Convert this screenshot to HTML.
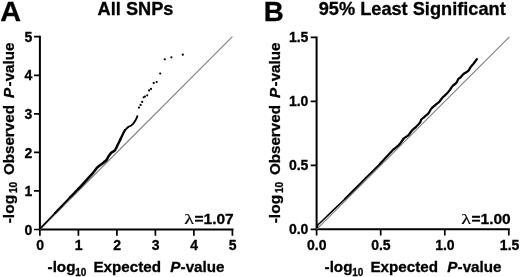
<!DOCTYPE html>
<html><head><meta charset="utf-8">
<style>
html,body{margin:0;padding:0;background:#fff;}
body{width:520px;height:277px;overflow:hidden;position:relative;}
svg{position:absolute;left:0;top:0;will-change:transform;opacity:0.999;}
text{font-family:"Liberation Sans",sans-serif;font-weight:bold;fill:#000;stroke:#000;stroke-width:0.3px;}
.t{font-size:14px;}
.ttl{font-size:18.2px;}
.ax{font-size:15.2px;}
.sub{font-size:10px;}
.lam{font-size:15.5px;}
.pl{font-size:27.2px;}
</style></head><body>
<svg width="520" height="277" viewBox="0 0 520 277">
<rect width="520" height="277" fill="#fff"/>
<text class="pl" transform="translate(0.3,20.7) scale(1.06,1.01)">A</text>
<text class="ttl" x="135.5" y="14.8" text-anchor="middle">All SNPs</text>
<g stroke="#000" stroke-width="2" fill="none">
<path d="M39.9,35.7 V229.5 H233.4"/>
</g><g stroke="#000" stroke-width="1.7" fill="none">
<path d="M34,229.5 H39.9 M39.9,229.5 V235.7 M34,190.9 H39.9 M78.4,229.5 V235.7 M34,152.4 H39.9 M116.9,229.5 V235.7 M34,113.8 H39.9 M155.4,229.5 V235.7 M34,75.3 H39.9 M193.9,229.5 V235.7 M34,36.7 H39.9 M232.4,229.5 V235.7"/>
</g>
<line x1="39.9" y1="229.5" x2="232.4" y2="36.7" stroke="#7e7e7e" stroke-width="1.1"/>
<g class="t" text-anchor="end">
<text x="32.3" y="234.6">0</text>
<text x="32.3" y="196">1</text>
<text x="32.3" y="157.5">2</text>
<text x="32.3" y="118.9">3</text>
<text x="32.3" y="80.4">4</text>
<text x="32.3" y="41.8">5</text>
</g><g class="t" text-anchor="middle">
<text x="40.1" y="250.4">0</text>
<text x="78.6" y="250.4">1</text>
<text x="117.1" y="250.4">2</text>
<text x="155.6" y="250.4">3</text>
<text x="194.1" y="250.4">4</text>
<text x="232.6" y="250.4">5</text>
</g>
<text class="ax" x="47.6" y="271.9">-log</text><text class="sub" x="75.2" y="276.1">10</text><text class="ax" x="93.4" y="271.9">Expected</text><text class="ax" x="170.2" y="271.9" font-style="italic">P</text><text class="ax" x="180.6" y="271.9">-value</text>
<g transform="translate(14.1,223.3) rotate(-90)"><text class="ax" x="0" y="0" style="font-size:15.5px">-log</text><text class="sub" x="30.2" y="3.0">10</text><text class="ax" x="48.2" y="0">Observed</text><text class="ax" x="125.4" y="0" font-style="italic">P</text><text class="ax" x="136.9" y="0">-value</text></g>
<text transform="translate(184.2,223.7) scale(1.3,1)" style="font-family:'Liberation Serif',serif;font-weight:normal;stroke-width:0.2px;font-size:15.6px">λ</text><text class="lam" x="233.7" y="223.7" text-anchor="end">=1.07</text>
<path d="M40.3,228.4 C42.1,226.5 53.2,214.9 55,213" stroke="#000" stroke-width="1.6" fill="none" stroke-linejoin="round" stroke-linecap="round"/><path d="M55,213 C56.9,211.1 68.1,199.3 70,197.4" stroke="#000" stroke-width="2.0" fill="none" stroke-linejoin="round" stroke-linecap="round"/><path d="M70,197.4 C71,196.3 77.4,189.9 78.4,188.8" stroke="#000" stroke-width="2.3" fill="none" stroke-linejoin="round" stroke-linecap="round"/><path d="M78.4,188.8 C80,187 89.2,177.2 91.5,174.6 C93.8,172 95.7,169.2 96.9,167.9 C98.1,166.6 100.1,165.3 101.2,164.4 C102.4,163.5 105.2,161.4 106.1,160.5 C107,159.6 107.7,157.7 108.3,156.8 C108.9,155.9 110.2,153.8 111,153 C111.8,152.2 114.1,151.4 115,150.3 C115.9,149.2 117.3,145.7 118,144.2 C118.7,142.8 120.4,139.5 120.7,138.8" stroke="#000" stroke-width="2.5" fill="none" stroke-linejoin="round" stroke-linecap="round"/><path d="M120.7,138.8 C121,138.2 122.4,135.1 122.9,134 C123.4,132.9 124.7,130.7 125,130.2" stroke="#000" stroke-width="2.3" fill="none" stroke-linejoin="round" stroke-linecap="round"/><path d="M125,130.2 C125.1,130.1 125.6,129.6 126,129.2 C126.4,128.9 127.5,127.5 128.1,127.1 C128.7,126.7 130.2,126.2 130.8,125.8 C131.4,125.4 132.5,124.3 133,123.8 C133.5,123.3 134.2,122.3 134.6,121.7 C135,121.1 135.9,119.7 136.2,119 C136.6,118.3 137.2,116.6 137.3,116.2" stroke="#000" stroke-width="1.9" fill="none" stroke-linejoin="round" stroke-linecap="round"/>
<g fill="#000"><circle cx="139" cy="107.6" r="1.1"/><circle cx="140.6" cy="104.9" r="1.1"/><circle cx="142.2" cy="101.9" r="1.1"/><circle cx="143.7" cy="97.3" r="1.1"/><circle cx="144.9" cy="96.5" r="1.1"/><circle cx="147.2" cy="95.3" r="1.1"/><circle cx="149.1" cy="90.4" r="1.1"/><circle cx="151" cy="88.9" r="1.1"/><circle cx="153.7" cy="82.9" r="1.1"/><circle cx="156.7" cy="82" r="1.1"/><circle cx="160.2" cy="73.5" r="1.1"/><circle cx="164.8" cy="59.3" r="1.1"/><circle cx="171.4" cy="57.3" r="1.1"/><circle cx="182.8" cy="54.7" r="1.1"/></g>
<text class="pl" transform="translate(263.8,20.7) scale(1.02,1.01)">B</text>
<text class="ttl" x="412.2" y="14.8" text-anchor="middle">95% Least Significant</text>
<g stroke="#000" stroke-width="2" fill="none">
<path d="M316.6,36.4 V229.3 H509.8"/>
</g><g stroke="#000" stroke-width="1.7" fill="none">
<path d="M310.7,229.3 H316.6 M316.6,229.3 V235.5 M310.7,165.3 H316.6 M380.7,229.3 V235.5 M310.7,101.4 H316.6 M444.8,229.3 V235.5 M310.7,37.4 H316.6 M508.8,229.3 V235.5"/>
</g>
<line x1="316.6" y1="229.3" x2="509.4" y2="36.8" stroke="#7e7e7e" stroke-width="1.1"/>
<g class="t" text-anchor="end">
<text x="308.4" y="234.3">0.0</text>
<text x="308.4" y="170.3">0.5</text>
<text x="308.4" y="106.4">1.0</text>
<text x="308.4" y="42.4">1.5</text>
</g><g class="t" text-anchor="middle">
<text x="316.8" y="250.4">0.0</text>
<text x="380.9" y="250.4">0.5</text>
<text x="444.9" y="250.4">1.0</text>
<text x="509.6" y="250.4">1.5</text>
</g>
<text class="ax" x="324.6" y="271.9">-log</text><text class="sub" x="352.2" y="276.1">10</text><text class="ax" x="370.4" y="271.9">Expected</text><text class="ax" x="447.2" y="271.9" font-style="italic">P</text><text class="ax" x="457.6" y="271.9">-value</text>
<g transform="translate(280,223.3) rotate(-90)"><text class="ax" x="0" y="0" style="font-size:15.5px">-log</text><text class="sub" x="30.2" y="3.0">10</text><text class="ax" x="48.2" y="0">Observed</text><text class="ax" x="125.4" y="0" font-style="italic">P</text><text class="ax" x="136.9" y="0">-value</text></g>
<text transform="translate(461.2,223.7) scale(1.3,1)" style="font-family:'Liberation Serif',serif;font-weight:normal;stroke-width:0.2px;font-size:15.6px">λ</text><text class="lam" x="510.7" y="223.7" text-anchor="end">=1.00</text>
<path d="M317.4,227.6 C317.5,227.2 317.6,225.3 318,224.6 C318.4,223.9 317.7,225.2 321,222 C324.3,218.8 341.7,202 344.7,199.2" stroke="#000" stroke-width="1.5" fill="none" stroke-linejoin="round" stroke-linecap="round"/><path d="M344.7,199.2 C346.9,197 357.6,186.2 362,181.8 C366.4,177.4 377.8,166.1 380,163.8" stroke="#000" stroke-width="1.9" fill="none" stroke-linejoin="round" stroke-linecap="round"/><path d="M380,163.8 C381.7,162 392.1,150.9 393.9,149.1" stroke="#000" stroke-width="2.1" fill="none" stroke-linejoin="round" stroke-linecap="round"/><path d="M393.9,149.1 C394.2,148.8 396.2,147.3 397,146.6 C397.8,145.9 399.3,144.4 400.2,143.4 C401.1,142.4 402.9,139.4 403.9,138.4 C405,137.4 407.4,136.2 408.4,135.2 C409.4,134.2 411.3,131.2 412.2,130.2 C413.1,129.2 415,128 415.9,127 C416.9,126 419.3,123.5 420,122.6 C420.7,121.7 420.7,120.3 421.3,119.6 C421.9,118.9 423.6,117.6 424.5,116.8 C425.4,116 427.4,114.4 428.3,113.4 C429.2,112.4 430.5,109.6 431.4,108.6 C432.3,107.6 434.2,106.1 435.2,105.2 C436.2,104.3 438.7,102.4 439.6,101.4 C440.6,100.4 441.9,98.1 442.8,97.2 C443.7,96.3 445.7,94.8 446.6,93.8 C447.5,92.9 449.3,90.6 450.1,89.6 C450.8,88.6 451.8,86.8 452.6,86 C453.4,85.1 455.7,83.7 456.4,82.8 C457.1,81.9 457.8,79.7 458.3,79 C458.9,78.3 460.1,77.8 460.8,77.1 C461.5,76.4 463,74.5 463.9,73.7 C464.9,72.9 467.6,71.6 468.4,70.8 C469.2,70 469.7,68.5 470.3,67.6 C470.9,66.7 472.6,64.9 473.4,63.9 C474.2,62.8 476.5,59.8 476.9,59.2" stroke="#000" stroke-width="2.25" fill="none" stroke-linejoin="round" stroke-linecap="round"/>
</svg>
</body></html>
